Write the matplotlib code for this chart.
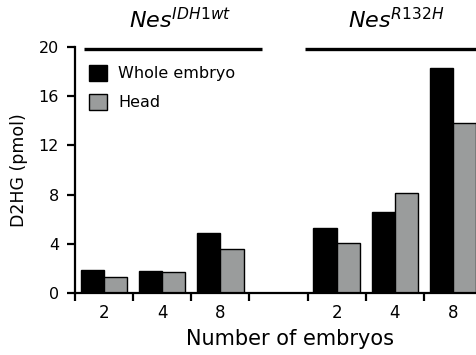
import numpy as np
import matplotlib
matplotlib.use("Agg")
import matplotlib.pyplot as plt

plt.rcParams['font.family'] = ['DejaVu Sans']
plt.rcParams['mathtext.fontset'] = 'dejavusans'

# data
slots = np.array([0, 1, 2, 4, 5, 6])          # slot 3 is the empty gap
tick_labels = ["2", "4", "8", "", "2", "4", "8"]
whole_embryo = [1.9, 1.8, 4.9, 5.3, 6.6, 18.3]
head = [1.3, 1.7, 3.6, 4.1, 8.1, 13.8]

black = '#000000'
grey = '#9a9c9c'

fig = plt.figure(figsize=(4.76, 3.55), dpi=100)
ax = fig.add_axes([75 / 476, 62 / 355, 407 / 476, 246 / 355])

ax.bar(slots + 0.1, whole_embryo, width=0.4, align='edge',
       color=black, edgecolor='black', linewidth=1, label='Whole embryo')
ax.bar(slots + 0.5, head, width=0.4, align='edge',
       color=grey, edgecolor='black', linewidth=1, label='Head')

ax.set_xlim(0, 7)
ax.set_ylim(0, 20)

# spines / ticks
for s in ['top', 'right']:
    ax.spines[s].set_visible(False)
for s in ['left', 'bottom']:
    ax.spines[s].set_linewidth(1.6)

ax.set_yticks([0, 4, 8, 12, 16, 20])
ax.tick_params(axis='y', direction='out', length=5.5, width=1.6, labelsize=11.5, pad=6)

ax.set_xticks(np.arange(0, 8))
ax.set_xticklabels([])
ax.tick_params(axis='x', which='major', direction='out', length=6, width=1.6)
ax.set_xticks(np.arange(7) + 0.5, minor=True)
ax.set_xticklabels(tick_labels, minor=True)
ax.tick_params(axis='x', which='minor', length=0, labelsize=12, pad=8)

ax.set_ylabel('D2HG (pmol)', fontsize=12.5)
ax.yaxis.set_label_coords((28 - 75) / 407, 0.5)
ax.set_xlabel('Number of embryos', fontsize=15)
ax.xaxis.set_label_coords((289.5 - 75) / 407, (293 - 329) / 246)

# genotype bars on top
ax.plot([0.155, 3.22], [19.85, 19.85], color='black', lw=2.4, clip_on=False,
        solid_capstyle='butt')
ax.plot([3.96, 7.0], [19.85, 19.85], color='black', lw=2.4, clip_on=False,
        solid_capstyle='butt')
ax.text(1.81, 21.5, r'$\mathit{Nes}^{\mathit{IDH1wt}}$', fontsize=16,
        ha='center', va='baseline')
ax.text(5.52, 21.5, r'$\mathit{Nes}^{\mathit{R132H}}$', fontsize=16,
        ha='center', va='baseline')

ax.legend(loc='upper left', bbox_to_anchor=(0.034, 0.927), frameon=False,
          fontsize=11.5, handlelength=1.15, handleheight=1.15, handletextpad=0.7,
          labelspacing=0.8, borderaxespad=0, borderpad=0)

fig.savefig('out.png', dpi=100)
